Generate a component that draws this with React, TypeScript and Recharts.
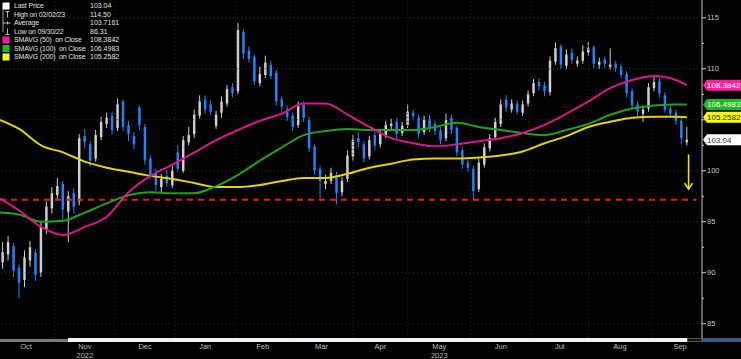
import React from 'react';
import { ComposedChart, Bar, Line, XAxis, YAxis, ReferenceLine, ReferenceDot } from 'recharts';

const W = 741;
const H = 359;
const FONT = '"Liberation Sans", Arial, sans-serif';

// x axis = weekday index, 0 = Mon 3 Oct 2022
const monthStarts = [0, 21, 43, 65, 87, 107, 130, 150, 173, 195, 216, 239, 260];
const monthNames = ['Oct', 'Nov', 'Dec', 'Jan', 'Feb', 'Mar', 'Apr', 'May', 'Jun', 'Jul', 'Aug', 'Sep'];
const yearUnder: Record<string, string> = { Nov: '2022', May: '2023' };

// one candle every 2nd weekday, starting at day 2
const firstDay = 2;
const open = [
  91.0, 91.8, 92.6, 90.5, 89.3, 91.2, 92.0, 90.0, 94.2, 96.3,
  97.6, 98.7, 96.0, 97.8, 97.0, 103.4, 102.6, 101.2, 103.3, 104.6,
  105.4, 104.2, 106.8, 104.5, 103.4, 106.2, 104.3, 101.2, 99.8, 98.4,
  99.5, 98.6, 101.8, 100.0, 102.8, 103.6, 105.4, 107.0, 106.5, 104.4,
  105.7, 106.6, 108.2, 107.8, 113.6, 111.8, 111.2, 108.6, 109.4, 110.4,
  109.6, 107.0, 106.0, 105.4, 104.5, 106.5, 105.0, 102.4, 100.2, 98.7,
  99.0, 99.6, 97.9, 99.2, 101.4, 103.2, 102.6, 101.4, 103.5, 102.6,
  103.5, 104.4, 104.8, 103.7, 104.5, 105.7, 105.2, 103.8, 105.1, 104.6,
  104.0, 103.2, 105.2, 104.2, 102.0, 100.8, 100.2, 98.2, 100.6, 102.2,
  103.3, 104.6, 107.0, 106.0, 106.6, 105.7, 106.6, 107.6, 108.7, 108.4,
  107.7, 110.7, 112.2, 110.3, 111.6, 110.5, 110.8, 111.6, 112.1, 110.4,
  110.9, 110.2, 110.5, 110.2, 109.5, 107.8, 106.5, 105.6, 106.1, 108.1,
  108.8, 107.4, 106.1, 105.7, 104.9, 102.8,
];
const high = [
  93.0, 93.6, 92.9, 90.8, 92.2, 93.1, 92.3, 95.0, 97.0, 98.4,
  99.3, 99.0, 98.0, 98.3, 103.6, 104.1, 102.9, 104.0, 105.3, 105.7,
  105.8, 107.1, 107.0, 104.9, 103.8, 106.4, 104.6, 101.5, 100.2, 99.7,
  100.1, 100.5, 102.5, 103.4, 104.3, 106.0, 107.4, 107.4, 106.9, 105.9,
  107.3, 108.4, 108.6, 114.5, 113.9, 112.2, 111.4, 110.2, 111.3, 110.8,
  109.9, 107.3, 106.4, 105.7, 106.8, 106.8, 105.3, 102.6, 100.5, 99.6,
  100.3, 99.9, 99.4, 102.0, 103.5, 103.8, 102.9, 103.4, 104.0, 104.1,
  104.9, 105.1, 105.2, 104.8, 106.5, 106.0, 105.5, 105.4, 105.5, 104.9,
  104.3, 105.6, 105.5, 104.4, 102.3, 101.1, 100.5, 101.2, 102.7, 103.6,
  105.2, 107.0, 107.4, 107.0, 106.9, 106.9, 107.9, 109.0, 109.1, 108.7,
  111.2, 112.6, 112.4, 111.9, 112.0, 111.2, 112.3, 112.6, 112.3, 111.1,
  111.2, 112.0, 110.8, 110.5, 109.8, 108.1, 106.8, 106.4, 108.6, 109.2,
  109.1, 107.7, 106.4, 106.0, 105.2, 104.3,
];
const low = [
  90.4, 91.2, 89.6, 87.5, 88.6, 90.6, 89.2, 89.6, 93.8, 95.8,
  97.1, 95.2, 93.0, 95.8, 96.6, 102.2, 100.4, 100.9, 103.0, 104.2,
  103.5, 103.9, 103.9, 102.9, 102.1, 104.0, 100.6, 99.2, 98.0, 97.9,
  98.4, 98.3, 99.9, 99.8, 102.5, 103.2, 105.1, 105.6, 105.5, 104.1,
  105.2, 106.3, 107.2, 107.5, 111.0, 110.6, 108.4, 108.3, 109.1, 109.0,
  106.4, 105.8, 104.9, 103.9, 104.2, 104.8, 101.8, 99.6, 97.0, 98.2,
  98.7, 96.7, 97.5, 98.9, 101.0, 102.3, 100.8, 101.1, 102.0, 102.3,
  103.2, 104.0, 103.2, 103.4, 104.2, 105.0, 103.2, 103.5, 103.8, 103.5,
  102.6, 102.9, 103.6, 101.4, 100.2, 99.9, 97.1, 97.9, 100.3, 101.9,
  103.0, 104.3, 105.8, 105.7, 105.5, 105.4, 106.3, 107.3, 107.9, 107.3,
  107.4, 110.4, 110.0, 110.0, 110.5, 110.2, 110.5, 111.3, 110.1, 110.0,
  110.1, 109.9, 109.7, 109.1, 107.2, 106.0, 105.3, 104.8, 105.8, 107.8,
  107.2, 105.7, 105.2, 104.5, 102.6, 102.5,
];
const close = [
  92.0, 93.0, 90.2, 89.0, 91.5, 92.5, 89.8, 94.5, 96.5, 97.8,
  98.5, 96.2, 97.5, 96.5, 103.2, 102.8, 101.0, 103.5, 104.8, 105.2,
  104.0, 106.5, 104.3, 103.6, 102.6, 104.5, 101.0, 99.6, 98.6, 99.2,
  98.8, 100.0, 100.2, 103.0, 103.5, 105.5, 106.8, 106.0, 105.8, 105.5,
  106.8, 108.0, 107.6, 113.8, 111.5, 111.0, 108.8, 109.5, 110.6, 109.3,
  106.8, 106.3, 105.3, 104.3, 106.3, 105.2, 102.2, 100.0, 99.0, 99.0,
  99.8, 97.8, 99.0, 101.5, 103.0, 102.8, 101.2, 103.0, 102.5, 103.6,
  104.5, 104.6, 103.6, 104.4, 105.8, 105.4, 103.6, 105.0, 104.2, 103.9,
  103.0, 105.0, 104.0, 101.8, 100.6, 100.3, 98.0, 100.8, 102.3, 103.2,
  104.8, 106.5, 106.2, 106.6, 105.8, 106.5, 107.5, 108.6, 108.3, 107.8,
  110.8, 112.0, 110.4, 111.4, 110.9, 110.8, 111.7, 112.0, 110.5, 110.7,
  110.5, 110.4, 110.1, 109.4, 107.6, 106.4, 105.8, 106.0, 108.2, 108.7,
  107.6, 106.0, 105.6, 104.9, 103.2, 103.04,
];

// moving averages read at these weekdays
const smaDays = [1, 8, 16, 24, 32, 40, 48, 56, 64, 72, 80, 88, 96, 104, 112, 120, 128,
  136, 144, 152, 160, 168, 176, 184, 192, 200, 208, 216, 224, 232, 240, 248, 252];
const sma50 = [97.3, 96.1, 94.5, 93.7, 94.5, 95.5, 97.9, 99.5, 100.6, 101.8, 103.0, 104.0, 104.9,
  105.6, 106.6, 106.6, 105.5, 104.3, 103.2, 102.7, 102.4, 102.6, 102.9, 103.2, 103.7, 104.5,
  105.6, 106.8, 108.1, 108.9, 109.3, 108.9, 108.4];
const sma100 = [95.9, 95.7, 95.0, 95.1, 95.9, 96.8, 97.6, 97.9, 97.8, 97.8, 98.5, 99.6, 101.0,
  102.3, 103.5, 103.9, 104.1, 104.0, 104.0, 104.0, 104.3, 104.7, 104.3, 104.0, 103.7, 103.5,
  104.0, 104.6, 105.5, 106.1, 106.4, 106.5, 106.5];
const sma200 = [105.0, 104.1, 102.5, 101.8, 100.9, 100.3, 99.9, 99.5, 99.2, 98.8, 98.4, 98.4, 98.6,
  99.0, 99.3, 99.3, 99.7, 100.3, 100.7, 101.1, 101.2, 101.2, 101.3, 101.5, 101.9, 102.7,
  103.4, 104.3, 104.8, 105.2, 105.3, 105.3, 105.26];

const legendRows = [
  { label: 'Last Price', value: '103.04', icon: 'box', color: '#ffffff' },
  { label: 'High on 02/02/23', value: '114.50', icon: 'high', color: '' },
  { label: 'Average', value: '103.7161', icon: 'avg', color: '' },
  { label: 'Low on 09/30/22', value: '86.31', icon: 'low', color: '' },
  { label: 'SMAVG (50)  on Close', value: '108.3842', icon: 'box', color: '#ff1aa8' },
  { label: 'SMAVG (100)  on Close', value: '106.4983', icon: 'box', color: '#12c012' },
  { label: 'SMAVG (200)  on Close', value: '105.2582', icon: 'box', color: '#ffff00' },
];

const badges = [
  { value: 108.3842, fill: '#ff1fa0', text: '#ffffff' },
  { value: 106.4983, fill: '#1fba1f', text: '#ffffff' },
  { value: 105.2582, fill: '#ffff00', text: '#202020' },
  { value: 103.04, fill: '#ffffff', text: '#303030' },
];

const supportLevel = 97.15;
const arrowDay = 252.6;
const arrowTop = 101.6;
const arrowBottom = 98.2;

const yTicks = [85, 87.5, 90, 92.5, 95, 97.5, 100, 102.5, 105, 107.5, 110, 112.5, 115];
const hiddenLabels = [105]; // covered by the SMA200 badge
const gridLevels = [85, 90, 95, 100, 105, 110, 115];

// build table
const rows: any[] = [];
const byDay = new Map<number, any>();
const rowFor = (d: number) => {
  if (!byDay.has(d)) {
    const r = { day: d };
    byDay.set(d, r);
    rows.push(r);
  }
  return byDay.get(d);
};
open.forEach((o, k) => {
  const r = rowFor(firstDay + 2 * k);
  r.open = o;
  r.high = high[k];
  r.low = low[k];
  r.close = close[k];
});
smaDays.forEach((d, k) => {
  const r = rowFor(d);
  r.sma50 = sma50[k];
  r.sma100 = sma100[k];
  r.sma200 = sma200[k];
});
rows.sort((a, b) => a.day - b.day);

const monthMids = monthStarts.slice(0, -1).map((s, i) => (s + monthStarts[i + 1]) / 2);

const Candle = (props: any) => {
  const { x, y, width, height, payload } = props;
  if (!payload || payload.open == null || !height) return <g />;
  const { open: o, close: c, high: h, low: l } = payload;
  const hgt = Math.abs(height);
  const top = Math.min(y, y + height);
  const ppu = hgt / (h - l);
  const color = c >= o ? '#cfcfcf' : '#1f84ff';
  const bodyTop = top + (h - Math.max(o, c)) * ppu;
  const bodyH = Math.max(1, Math.abs(o - c) * ppu);
  const cx = x + width / 2;
  return (
    <g>
      <line x1={cx} x2={cx} y1={top} y2={top + hgt} stroke={color} strokeWidth={1} />
      <rect x={x} y={bodyTop} width={width} height={bodyH} fill={color} />
    </g>
  );
};

const MonthTick = ({ x, y, payload }: any) => {
  const idx = monthMids.findIndex((m) => Math.abs(m - payload.value) < 0.01);
  const name = monthNames[idx];
  if (!name) return <g />;
  return (
    <g fontFamily={FONT} fontSize={7.5} fill="#bdbdbd" textAnchor="middle">
      <text x={x} y={y + 11}>{name}</text>
      {yearUnder[name] && <text x={x} y={y + 19.5}>{yearUnder[name]}</text>}
    </g>
  );
};

const PriceTick = ({ x, y, payload }: any) => {
  const v = payload.value;
  const major = v % 5 === 0;
  return (
    <g>
      <line x1={x} x2={x + (major ? 4 : 2)} y1={y} y2={y} stroke="#d0d0d0" />
      {major && !hiddenLabels.includes(v) && (
        <text x={x + 5} y={y} dy="0.35em" fontFamily={FONT} fontSize={7.5} fill="#c8c8c8">
          {v}
        </text>
      )}
    </g>
  );
};

const makeBadge = (fill: string, textColor: string, label: string) => (p: any) => {
  const { cx, cy } = p;
  const x0 = cx + 1;
  const d = `M${x0} ${cy} L${x0 + 4} ${cy - 5.5} L${W} ${cy - 5.5} L${W} ${cy + 5.5} L${x0 + 4} ${cy + 5.5} Z`;
  return (
    <g>
      <path d={d} fill={fill} />
      <text x={x0 + 4} y={cy} dy="0.35em" fontFamily={FONT} fontSize={8} fill={textColor}>
        {label}
      </text>
    </g>
  );
};

const ArrowShape = (p: any) => {
  const { x1, y1, x2, y2 } = p;
  return (
    <g stroke="#f2e600" strokeWidth={1.6} fill="none">
      <line x1={x1} y1={y1} x2={x2} y2={y2} />
      <polyline points={`${x2 - 4},${y2 - 6} ${x2},${y2} ${x2 + 4},${y2 - 6}`} />
    </g>
  );
};

function Legend() {
  return (
    <svg width={130} height={62} style={{ position: 'absolute', left: 0, top: 0 }}>
      <line x1={3} x2={3} y1={9} y2={32} stroke="#9a9a9a" />
      {legendRows.map((r, i) => {
        const cy = 6 + 8.5 * i;
        let icon: any = null;
        if (r.icon === 'box') icon = <rect x={2.5} y={cy - 3.5} width={7} height={7} fill={r.color} />;
        if (r.icon === 'high')
          icon = (
            <g stroke="#bbb">
              <line x1={5.5} x2={9.5} y1={cy - 3} y2={cy - 3} />
              <line x1={7.5} x2={7.5} y1={cy - 3} y2={cy + 3} />
            </g>
          );
        if (r.icon === 'avg')
          icon = (
            <g stroke="#bbb">
              <line x1={3} x2={10.5} y1={cy} y2={cy} />
              <line x1={7.5} x2={7.5} y1={cy - 1.5} y2={cy + 1.5} />
            </g>
          );
        if (r.icon === 'low')
          icon = (
            <g stroke="#bbb">
              <line x1={7.5} x2={7.5} y1={cy - 3} y2={cy + 3} />
              <line x1={5.5} x2={9.5} y1={cy + 3} y2={cy + 3} />
            </g>
          );
        return (
          <g key={i}>
            {icon}
            <text
              x={14}
              y={cy}
              dy="0.35em"
              fontFamily={FONT}
              fontSize={7}
              letterSpacing={-0.15}
              fill="#e2e2e2"
              style={{ whiteSpace: 'pre' }}
            >
              {r.label}
            </text>
            <text x={90} y={cy} dy="0.35em" fontFamily={FONT} fontSize={7} fill="#e2e2e2">
              {r.value}
            </text>
          </g>
        );
      })}
    </svg>
  );
}

export default function App() {
  return (
    <div style={{ position: 'absolute', left: 0, top: 0, width: W, height: H, background: '#000', overflow: 'hidden' }}>
      <ComposedChart width={W} height={H} data={rows} margin={{ top: 0, right: 0, bottom: 0, left: 0 }}>
        <XAxis
          type="number"
          dataKey="day"
          domain={[1, 257.5]}
          allowDataOverflow
          ticks={monthMids}
          tick={<MonthTick />}
          tickLine={false}
          axisLine={false}
          tickSize={0}
          tickMargin={0}
          height={21}
          interval={0}
        />
        <YAxis
          orientation="right"
          width={39}
          domain={[83.6, 116.75]}
          allowDataOverflow
          ticks={yTicks}
          tick={<PriceTick />}
          tickLine={false}
          tickSize={0}
          tickMargin={0}
          axisLine={{ stroke: '#bdbdbd' }}
          interval={0}
        />
        {gridLevels.map((g) => (
          <ReferenceLine key={'g' + g} y={g} stroke="#3a3a3a" strokeDasharray="1 3" />
        ))}
        {monthStarts.slice(1, -1).map((m) => (
          <ReferenceLine key={'m' + m} x={m} stroke="#2c2c2c" strokeDasharray="1 3" />
        ))}
        <ReferenceLine
          segment={[{ x: 1, y: supportLevel }, { x: 255.5, y: supportLevel }]}
          stroke="#e02020"
          strokeWidth={2}
          strokeDasharray="6 5"
        />
        <Bar
          dataKey={(d: any) => (d.high != null ? [d.low, d.high] : null)}
          barSize={3}
          shape={<Candle />}
          isAnimationActive={false}
        />
        <Line dataKey="sma200" type="monotone" stroke="#e2d400" strokeWidth={2} dot={false} connectNulls isAnimationActive={false} />
        <Line dataKey="sma100" type="monotone" stroke="#1ea31e" strokeWidth={2} dot={false} connectNulls isAnimationActive={false} />
        <Line dataKey="sma50" type="monotone" stroke="#d8188c" strokeWidth={2} dot={false} connectNulls isAnimationActive={false} />
        <ReferenceLine
          segment={[{ x: arrowDay, y: arrowTop }, { x: arrowDay, y: arrowBottom }]}
          shape={ArrowShape}
        />
        {badges.map((b) => (
          <ReferenceDot
            key={b.value}
            x={257.5}
            y={b.value}
            r={0}
            ifOverflow="visible"
            shape={makeBadge(b.fill, b.text, String(b.value))}
          />
        ))}
      </ComposedChart>
      <Legend />
      <div style={{ position: 'absolute', left: 0, top: 339, width: 68, height: 3, background: '#7a7a7a' }} />
      <div style={{ position: 'absolute', left: 68, top: 338, width: 619, height: 4, background: '#f2f2f2' }} />
      <div style={{ position: 'absolute', left: 687, top: 338, width: 13, height: 2, border: '1px solid #555', background: '#111' }} />
      <div style={{ position: 'absolute', left: 702, top: 338, width: 39, height: 4, background: '#3d5878' }} />
    </div>
  );
}
